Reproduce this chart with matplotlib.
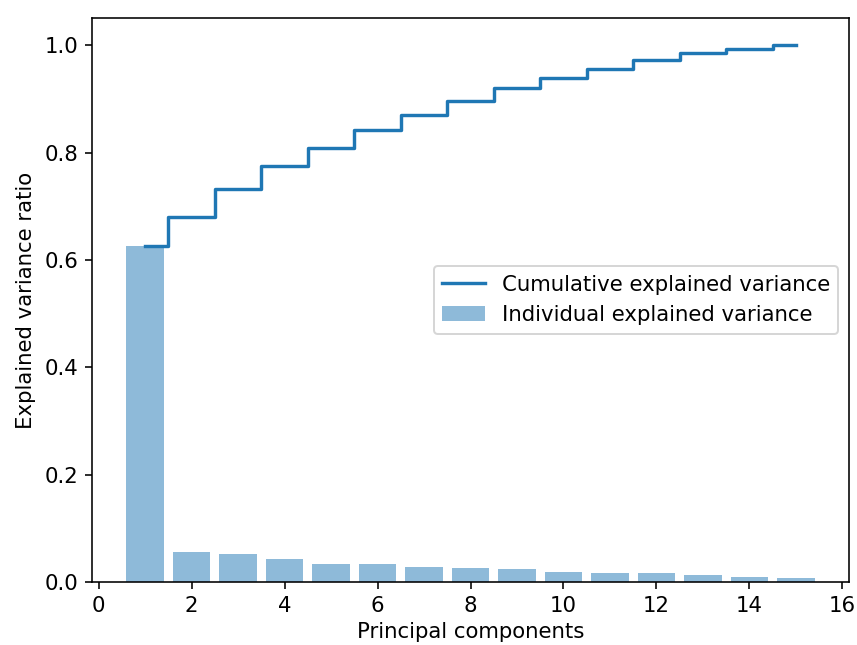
import numpy as np
import matplotlib
matplotlib.use('Agg')
import matplotlib.pyplot as plt

# explained variance ratio of each principal component
components = list(range(1, 16))
var_exp = [0.626, 0.055, 0.052, 0.043, 0.033, 0.033, 0.028, 0.027,
           0.024, 0.019, 0.016, 0.016, 0.013, 0.009, 0.007]
cum_var_exp = np.cumsum(var_exp)

plt.rcParams['font.size'] = 10.6

fig = plt.figure(figsize=(857 / 144, 645 / 144), dpi=144)
ax = fig.add_axes([92 / 857, 63 / 645, 757 / 857, 564 / 645])

ax.bar(components, var_exp, alpha=0.5, align='center',
       label='Individual explained variance')
ax.step(components, cum_var_exp, where='mid', lw=1.7,
        label='Cumulative explained variance')
ax.set_ylabel('Explained variance ratio')
ax.set_xlabel('Principal components', labelpad=3)
ax.legend(loc='center right')

fig.savefig('out.png', dpi=144)
